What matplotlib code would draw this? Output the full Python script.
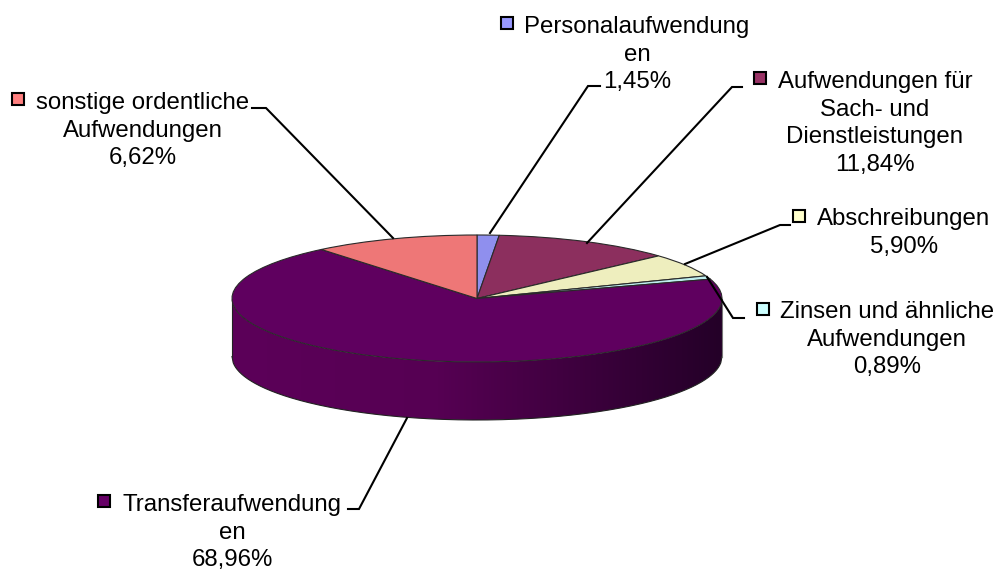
import numpy as np
import matplotlib
matplotlib.use('Agg')
import matplotlib.pyplot as plt
from matplotlib.colors import LinearSegmentedColormap
from matplotlib.patches import Polygon

plt.rcParams['font.family'] = ['Liberation Sans', 'DejaVu Sans']

# slice sizes as drawn (the last slice is drawn bigger than its printed label)
shares = [1.45, 11.84, 5.90, 0.89, 68.96, 10.96]
labels = ['Personalaufwendung\nen\n1,45%',
          'Aufwendungen für\nSach- und\nDienstleistungen\n11,84%',
          'Abschreibungen\n5,90%',
          'Zinsen und ähnliche\nAufwendungen\n0,89%',
          'Transferaufwendung\nen\n68,96%',
          'sonstige ordentliche\nAufwendungen\n6,62%']
top_colors = ['#8F8FEE', '#8C2F5E', '#EEEEBE', '#BEEEEE', '#5F005F', '#EE7777']
key_colors = ['#9999FF', '#993366', '#FFFFCC', '#CCFFFF', '#660066', '#FF8080']

W, H = 1002, 571
cx, cy = 477, 298.5
rx, ry = 245, 63.5
depth = 58

# label centre, y of first line, legend key position, leader line
text_pos = [(637, 16), (875, 71), (904, 208), (887, 301), (232, 494), (143, 92)]
key_pos = [(507, 23), (760, 78), (799, 216), (763, 309), (104, 501), (18, 99)]
leaders = [[(490, 233), (588, 86), (600, 86)],
           [(587, 243), (732, 87), (742, 87)],
           [(685, 264), (780, 225), (790, 225)],
           [(707, 277), (733, 318), (744, 318)],
           [(407, 418), (359, 509), (348, 509)],
           [(393, 238), (266, 108), (252, 108)]]

fig = plt.figure(figsize=(W / 100, H / 100), dpi=100)

# side wall below the pie
ax_wall = fig.add_axes([0, 0, 1, 1])
ax_wall.set_xlim(0, W)
ax_wall.set_ylim(H, 0)
ax_wall.axis('off')
xs = np.linspace(cx - rx, cx + rx, 400)
ys = cy + ry * np.sqrt(np.clip(1 - ((xs - cx) / rx) ** 2, 0, 1))
wall = np.column_stack([np.r_[xs, xs[::-1]], np.r_[ys + depth, ys[::-1]]])
cmap = LinearSegmentedColormap.from_list(
    'wall', [(0, '#5C0059'), (0.42, '#560053'), (1, '#240028')])
im = ax_wall.imshow(np.linspace(0, 1, 256)[None, :], cmap=cmap, aspect='auto',
                    extent=(cx - rx, cx + rx, cy + ry + depth, cy), zorder=1)
patch = Polygon(wall, closed=True, transform=ax_wall.transData, fc='none', ec='none')
ax_wall.add_patch(patch)
im.set_clip_path(patch)
ax_wall.plot(xs, ys + depth, color='#222222', lw=0.8, zorder=2)
ax_wall.plot([cx - rx, cx - rx], [cy, cy + depth], color='#222222', lw=0.8, zorder=2)
ax_wall.plot([cx + rx, cx + rx], [cy, cy + depth], color='#777777', lw=0.8, zorder=2)
ax_wall.set_xlim(0, W)
ax_wall.set_ylim(H, 0)

# top of the pie, a circle squeezed to an ellipse by the axes shape
ax_pie = fig.add_axes([(cx - rx) / W, 1 - (cy + ry) / H, 2 * rx / W, 2 * ry / H])
ax_pie.patch.set_alpha(0)
ax_pie.pie(shares, colors=top_colors, startangle=90, counterclock=False, radius=1,
           wedgeprops={'edgecolor': '#2A2A2A', 'linewidth': 0.8, 'clip_on': False})
ax_pie.set_aspect('auto')
ax_pie.set_xlim(-1, 1)
ax_pie.set_ylim(-1, 1)

# leader lines, legend keys and text
ax_top = fig.add_axes([0, 0, 1, 1])
ax_top.patch.set_alpha(0)
ax_top.set_xlim(0, W)
ax_top.set_ylim(H, 0)
ax_top.axis('off')
for label, pos, key, color, line in zip(labels, text_pos, key_pos, key_colors, leaders):
    ax_top.plot([p[0] for p in line], [p[1] for p in line], color='black', lw=1.5,
                solid_joinstyle='miter')
    ax_top.plot(key[0], key[1], marker='s', ms=8.5, mfc=color, mec='black', mew=1.5)
    ax_top.text(pos[0], pos[1], label, ha='center', va='top', ma='center',
                fontsize=17.3, linespacing=1.33, color='black')

fig.savefig('out.png', dpi=100)
